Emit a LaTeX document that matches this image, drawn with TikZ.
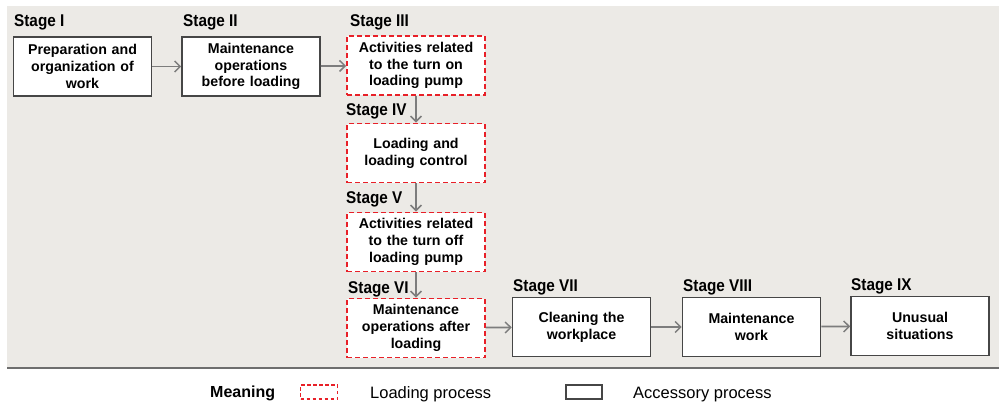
\documentclass[tikz,border=0pt]{standalone}
\usepackage{fontspec}
\setmainfont{Liberation Sans}
\newfontfamily\stagefont[FakeStretch=0.9]{Liberation Sans}
\usetikzlibrary{arrows.meta}
\definecolor{panel}{RGB}{236,234,230}
\definecolor{redd}{RGB}{232,32,40}
\definecolor{arrowgray}{RGB}{125,125,125}
\definecolor{boxline}{RGB}{70,70,70}
\definecolor{panelline}{RGB}{110,110,110}
\begin{document}
\begin{tikzpicture}[x=1pt,y=-1pt,
  acc/.style={draw=boxline, line width=1.6pt, fill=white, minimum width=138pt, minimum height=59pt, text width=130pt, align=center, font=\bfseries\fontsize{14.2}{16.8}\selectfont, inner sep=0pt},
  load/.style={acc, draw=redd, dash pattern=on 5pt off 3pt, line width=1.8pt},
  stagelbl/.style={anchor=base west, font=\stagefont\bfseries\fontsize{17}{19}\selectfont, inner sep=0pt},
  legtext/.style={anchor=base west, font=\fontsize{16.5}{19}\selectfont, inner sep=0pt},
  flow/.style={draw=arrowgray, line width=1.8pt, -{Straight Barb[length=5.5pt,width=11pt,line width=1.5pt]}}]

\useasboundingbox (0,0) rectangle (999,404);
\fill[panel] (7,6) rectangle (999,369);
\draw[panelline, line width=2pt] (7,368) -- (999,368);

% boxes
\node[acc]  (b1) at (82.5,66.5) {Preparation and\\organization of\\work};
\node[acc]  (b2) at (251,66.5) {Maintenance\\operations\\before loading};
\node[load] (b3) at (416,65.5) {Activities related\\to the turn on\\loading pump};
\node[load] (b4) at (416,153) {Loading and\\loading control};
\node[load] (b5) at (416,242) {Activities related\\to the turn off\\loading pump};
\node[load] (b6) at (416,328) {Maintenance\\operations after\\loading};
\node[acc]  (b7) at (581.5,327) {Cleaning the\\workplace};
\node[acc]  (b8) at (751.5,327) {Maintenance\\work};
\node[acc]  (b9) at (920,326) {Unusual\\situations};

% stage labels
\node[stagelbl] (s1) at (14,27)  {Stage I};
\node[stagelbl] (s2) at (183,27) {Stage II};
\node[stagelbl] (s3) at (350,27) {Stage III};
\node[stagelbl] (s4) at (346,115) {Stage IV};
\node[stagelbl] (s5) at (346,203) {Stage V};
\node[stagelbl] (s6) at (348,293) {Stage VI};
\node[stagelbl] (s7) at (513,291) {Stage VII};
\node[stagelbl] (s8) at (683,291) {Stage VIII};
\node[stagelbl] (s9) at (851,290) {Stage IX};

% connectors
\draw[flow] (b1) -- (b2);
\draw[flow] (b2) -- (b3);
\draw[flow] (b3) -- (b4);
\draw[flow] (b4) -- (b5);
\draw[flow] (b5) -- (b6);
\draw[flow] (b6) -- (b7);
\draw[flow] (b7) -- (b8);
\draw[flow] (b8) -- (b9);

% legend
\node[anchor=base west, font=\bfseries\fontsize{16}{19}\selectfont, inner sep=0pt] (meaning) at (210,397) {Meaning};
\node[draw=redd, dash pattern=on 3.5pt off 2.5pt, line width=1.5pt, minimum width=37pt, minimum height=14pt, inner sep=0pt] (legload) at (319,392) {};
\node[legtext] (loadtxt) at (370,398) {Loading process};
\node[draw=boxline, line width=1.3pt, fill=white, minimum width=36pt, minimum height=14pt, inner sep=0pt] (legacc) at (584,392) {};
\node[legtext] (acctxt) at (633,398) {Accessory process};
\end{tikzpicture}
\end{document}
